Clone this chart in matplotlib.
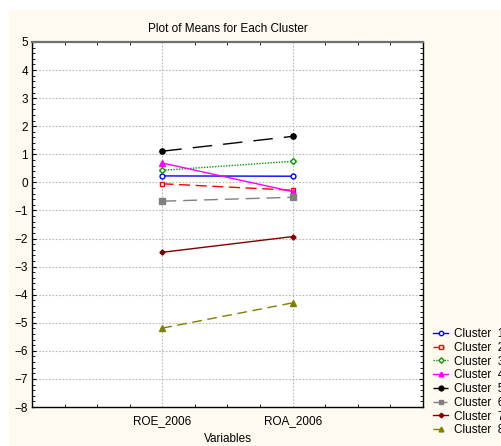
import numpy as np
import matplotlib.pyplot as plt
from matplotlib.patches import Rectangle
from matplotlib.ticker import MultipleLocator

plt.rcParams['font.family'] = ['Liberation Sans', 'DejaVu Sans']

variables = ["ROE_2006", "ROA_2006"]
cluster_names = ["Cluster  1", "Cluster  2", "Cluster  3", "Cluster  4",
                 "Cluster  5", "Cluster  6", "Cluster  7", "Cluster  8"]
c1 = [0.23, 0.22]
c2 = [-0.05, -0.28]
c3 = [0.43, 0.75]
c4 = [0.69, -0.33]
c5 = [1.11, 1.64]
c6 = [-0.67, -0.53]
c7 = [-2.49, -1.93]
c8 = [-5.19, -4.29]

means = [c1, c2, c3, c4, c5, c6, c7, c8]
colors = ['#0000ff', '#ff0000', '#009900', '#ff00ff', '#000000', '#808080', '#800000', '#808000']
styles = ['-', (0, (8, 4)), (0, (1, 1)), '-', (0, (14, 8)), (0, (10, 5)), '-', (0, (7, 4))]
markers = ['o', 's', 'D', '^', 'o', 's', 'D', '^']
filled = [False, False, False, True, True, True, True, True]
msizes = [3.5, 3.5, 3, 3.8, 3.8, 3.8, 2.6, 3.8]

fig = plt.figure(figsize=(5.01, 4.46), dpi=100)
fig.patches.append(Rectangle((9 / 501, 0), 1, 1 - 10 / 446, transform=fig.transFigure,
                             facecolor='#fffaf0', edgecolor='none', zorder=-10))
ax = fig.add_axes([32 / 501, 1 - 407 / 446, 391 / 501, 365 / 446])

x = np.arange(1, len(variables) + 1)
for i in range(len(means)):
    ax.plot(x, means[i], color=colors[i], linestyle=styles[i], linewidth=1.0,
            marker=markers[i], markersize=msizes[i],
            markerfacecolor=colors[i] if filled[i] else 'white',
            markeredgecolor=colors[i], markeredgewidth=1.0, label=cluster_names[i])

ax.set_xlim(0, 3)
ax.set_ylim(-8, 5)
ax.set_xticks(x)
ax.set_xticklabels(variables)
ax.xaxis.set_minor_locator(MultipleLocator(0.25))
ax.set_yticks(np.arange(-8, 6, 1))
ax.yaxis.set_minor_locator(MultipleLocator(0.2))
ax.tick_params(which='both', direction='in', top=True, right=True, labelsize=8.5, pad=3)
ax.tick_params(which='major', length=3)
ax.tick_params(which='minor', length=2)
ax.tick_params(axis='x', which='major', length=0, pad=6)
ax.grid(True, which='major', color='#b8b8b8', linestyle=(0, (1.5, 1.5)), linewidth=0.8)
ax.spines['top'].set_color('#707070')
ax.spines['top'].set_linewidth(1.6)
for s in ['left', 'right', 'bottom']:
    ax.spines[s].set_linewidth(1.0)

ax.set_title("Plot of Means for Each Cluster", fontsize=8.5, pad=7)
ax.set_xlabel("Variables", fontsize=8.5, labelpad=4)

ax.legend(loc='upper left', bbox_to_anchor=(433 / 501, 1 - 328 / 446),
          bbox_transform=fig.transFigure, frameon=False, fontsize=8.5,
          handlelength=1.3, handletextpad=0.5, labelspacing=0.15,
          borderpad=0, borderaxespad=0, markerscale=0.9)

fig.savefig("out.png", dpi=100)
